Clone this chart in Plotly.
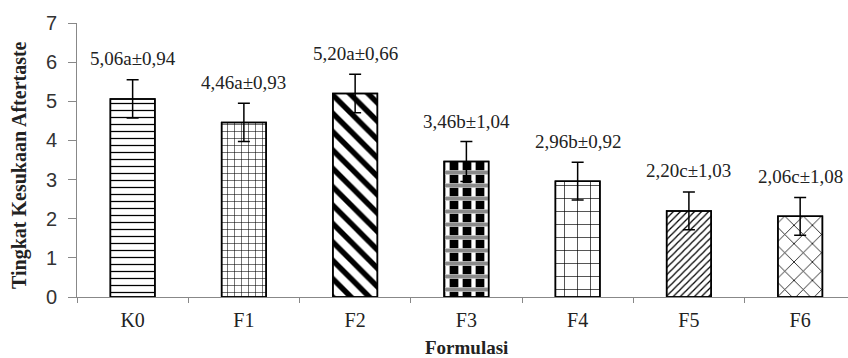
import plotly.graph_objects as go

categories = ["K0", "F1", "F2", "F3", "F4", "F5", "F6"]
means = [5.06, 4.46, 5.20, 3.46, 2.96, 2.20, 2.06]
errors = [0.49, 0.49, 0.49, 0.51, 0.48, 0.48, 0.48]
labels = ["5,06a±0,94", "4,46a±0,93", "5,20a±0,66", "3,46b±1,04",
          "2,96b±0,92", "2,20c±1,03", "2,06c±1,08"]

shapes = ["-", "+", "\\", "+", "+", "/", "x"]
sizes = [7, 7, 13, 13, 13, 5, 13]
solid = [0.18, 0.15, 0.42, 0.55, 0.1, 0.25, 0.12]
fgcols = ["black", "black", "black", "white", "black", "black", "black"]
bgcols = ["white", "white", "white", "black", "white", "white", "white"]

band_shapes = ["", "", "", "-", "", "", ""]

fig = go.Figure()
fig.add_trace(go.Bar(
    x=categories, y=means,
    width=0.4,
    marker=dict(
        color="white",
        line=dict(color="black", width=1.5),
        pattern=dict(shape=shapes, size=sizes, solidity=solid,
                     fgcolor=fgcols, fgopacity=1, bgcolor=bgcols, fillmode="replace"),
    ),
    showlegend=False, hoverinfo="skip",
))
fig.add_trace(go.Bar(
    x=categories, y=means,
    width=0.4,
    marker=dict(
        color="rgba(0,0,0,0)",
        line=dict(color="black", width=1.5),
        pattern=dict(shape=band_shapes, size=13, solidity=0.3,
                     fgcolor="#8a8a8a", fgopacity=1, bgcolor="rgba(0,0,0,0)"),
    ),
    error_y=dict(type="data", array=errors, visible=True,
                 color="black", thickness=1.5, width=6),
    showlegend=False,
))

for c, m, t in zip(categories, means, labels):
    fig.add_annotation(x=c, y=m, text=t, showarrow=False, yanchor="middle",
                       yshift=40, font=dict(family="Liberation Serif", size=19, color="#222"))

fig.add_annotation(x=0, xref="paper", xshift=-57, xanchor="center", y=0.482, yref="paper",
                   text="<b>Tingkat Kesukaan Aftertaste</b>", textangle=-90,
                   showarrow=False, font=dict(family="Liberation Serif", size=20, color="#222"))
fig.add_annotation(x=3, xref="x", y=0, yref="paper", yshift=-50, yanchor="middle",
                   text="<b>Formulasi</b>", showarrow=False,
                   font=dict(family="Liberation Serif", size=19, color="#222"))

fig.update_layout(
    width=848, height=358,
    margin=dict(l=77, r=0, t=23, b=61),
    barmode="overlay",
    paper_bgcolor="white", plot_bgcolor="white",
    xaxis=dict(range=[-0.5, 6.43], showline=True, linecolor="#888", linewidth=1,
               ticks="outside", tickson="boundaries", ticklen=5, tickcolor="#888",
               tickfont=dict(family="Liberation Serif", size=20, color="#222"),
               showgrid=False, zeroline=False, ticklabelstandoff=5),
    yaxis=dict(range=[0, 7], dtick=1, showline=True, linecolor="#888", linewidth=1,
               ticks="outside", ticklen=8, tickcolor="#888",
               tickfont=dict(family="Liberation Sans", size=20, color="#333"),
               showgrid=False, zeroline=False, ticklabelstandoff=7),
)

fig.write_html("out.html")
